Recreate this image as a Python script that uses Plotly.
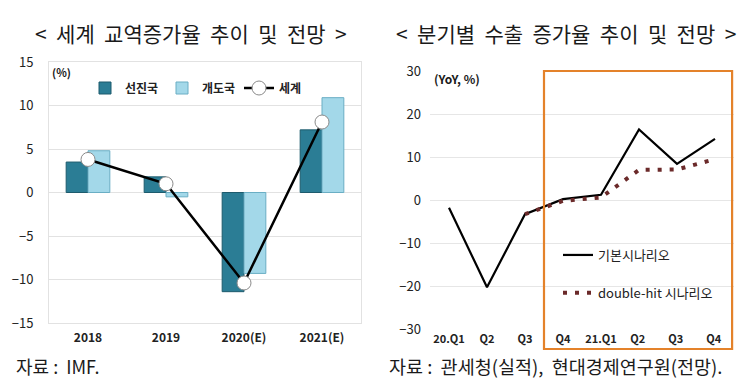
import plotly.graph_objects as go

# Left chart data (IMF)
years = ["2018", "2019", "2020(E)", "2021(E)"]
advanced = [3.5, 1.8, -11.4, 7.2]
developing = [4.8, -0.5, -9.3, 10.9]
world = [3.8, 1.0, -10.4, 8.1]

# Right chart data
quarters = ["20.Q1", "Q2", "Q3", "Q4", "21.Q1", "Q2 ", "Q3 ", "Q4 "]
base_scn = [-1.8, -20.3, -3.3, 0.2, 1.2, 16.4, 8.4, 14.2]
dh_quarters = ["Q3", "Q4", "21.Q1", "Q2 ", "Q3 ", "Q4 "]
dh_scn = [-3.3, -0.2, 0.6, 7.0, 7.1, 9.5]

W, H = 750, 390
def px(x): return x / W
def py(y): return (H - y) / H

FONT = "Noto Sans CJK KR"
NB = "\u00a0"

fig = go.Figure()

fig.add_trace(go.Bar(x=years, y=advanced, name="<b>선진국</b>", xaxis="x", yaxis="y",
                     marker=dict(color="#2b7d95", line=dict(color="#1d5b6d", width=1)),
                     legend="legend"))
fig.add_trace(go.Bar(x=years, y=developing, name="<b>개도국</b>", xaxis="x", yaxis="y",
                     marker=dict(color="#a3d8e9", line=dict(color="#6aaec4", width=1)),
                     legend="legend"))
fig.add_trace(go.Scatter(x=years, y=world, name="<b>세계</b>", xaxis="x", yaxis="y",
                         mode="lines+markers",
                         line=dict(color="black", width=2.5),
                         marker=dict(color="white", size=14, line=dict(color="#8a8a8a", width=1)),
                         legend="legend"))

fig.add_trace(go.Scatter(x=quarters, y=base_scn, name="기본시나리오", xaxis="x2", yaxis="y2",
                         mode="lines", line=dict(color="black", width=2.2),
                         legend="legend2", legendgroup="a"))
fig.add_trace(go.Scatter(x=dh_quarters, y=dh_scn, name="double-hit 시나리오", xaxis="x2", yaxis="y2",
                         mode="lines", line=dict(color="#6b2a2a", width=4, dash="4px,8px"),
                         legend="legend2", legendgroup="b"))

fig.update_layout(
    width=W, height=H, autosize=False,
    margin=dict(l=0, r=0, t=0, b=0, pad=0, autoexpand=False),
    paper_bgcolor="white", plot_bgcolor="white",
    font=dict(family=FONT, color="#222"),
    barmode="group", bargap=0.44, bargroupgap=0,
    showlegend=True,
    xaxis=dict(domain=[px(49), px(361)], range=[-0.5, 3.5], type="category",
               showgrid=False, showline=True, linecolor="#e2e2e2", mirror=True,
               ticks="", tickfont=dict(size=12, color="#222", family=FONT, weight="bold"),
               anchor="y", zeroline=False, automargin=False, ticklabelstandoff=4),
    yaxis=dict(domain=[py(323), py(62)], range=[-15, 15], dtick=5,
               showgrid=True, gridcolor="#e2e2e2", zeroline=False,
               showline=True, linecolor="#e2e2e2", mirror=True,
               tickfont=dict(size=13, color="#222"), anchor="x",
               ticklabelstandoff=12, automargin=False),
    xaxis3=dict(overlaying="x", range=[-0.5, 3.5], anchor="free", position=py(192),
                showline=True, linecolor="#b5b5b5", linewidth=1.2,
                ticks="outside", ticklen=5, tickcolor="#b5b5b5",
                tickvals=[0.5, 1.5, 2.5], showticklabels=False, showgrid=False,
                zeroline=False, domain=[px(49), px(361)], automargin=False),
    xaxis2=dict(domain=[px(430), px(734)], range=[-0.5, 7.5], type="category",
                showgrid=False, showline=False, ticks="",
                tickfont=dict(size=11, color="#222", family=FONT, weight="bold"), anchor="y2",
                ticklabelstandoff=2, zeroline=False, automargin=False),
    yaxis2=dict(domain=[py(329), py(71)], range=[-30, 30], dtick=10,
                showgrid=True, gridcolor="#e6e6e6", zeroline=False,
                showline=False, tickfont=dict(size=13, color="#222"), anchor="x2",
                ticklabelstandoff=8, automargin=False),
    xaxis4=dict(overlaying="x2", range=[-0.5, 7.5], anchor="free", position=py(199.5),
                showline=True, linecolor="black", linewidth=1.5,
                ticks="outside", ticklen=5, tickcolor="black", tickwidth=1.2,
                tickvals=[0.5, 1.5, 2.5, 3.5, 4.5, 5.5, 6.5], showticklabels=False,
                showgrid=False, zeroline=False, domain=[px(430), px(734)], automargin=False),
    legend=dict(orientation="h", x=px(85), y=py(88), xanchor="left", yanchor="middle",
                font=dict(size=12, color="#222", family=FONT), bgcolor="rgba(0,0,0,0)",
                entrywidth=32, entrywidthmode="pixels",
                itemwidth=30, tracegroupgap=0, traceorder="normal"),
    legend2=dict(orientation="v", x=px(558), y=py(274), xanchor="left", yanchor="middle",
                 font=dict(size=13, color="#222", family=FONT), bgcolor="rgba(0,0,0,0)",
                 tracegroupgap=18, traceorder="grouped"),
)

fig.add_shape(type="rect", xref="x2", yref="paper", x0=2.5, x1=7.45,
              y0=py(349), y1=py(71), line=dict(color="#e4822a", width=2.2),
              fillcolor="rgba(0,0,0,0)", layer="above")

t1 = "<" + NB + " 세계" + NB + " 교역증가율" + NB + " 추이" + NB + " 및" + NB + " 전망" + NB + " >"
t2 = "<" + NB + " 분기별" + NB + " 수출" + NB + " 증가율" + NB + " 추이" + NB + " 및" + NB + " 전망" + NB + " >"
ann = [
    dict(text=t1, x=px(191), y=py(33), size=21, anchor="center"),
    dict(text=t2, x=px(566), y=py(33), size=21, anchor="center"),
    dict(text="자료 :  IMF.", x=px(14), y=py(366), size=18, anchor="left"),
    dict(text="자료 :  관세청(실적),  현대경제연구원(전망).", x=px(387), y=py(366), size=18.5, anchor="left"),
    dict(text="<b>(%)</b>", x=px(50), y=py(72), size=11, anchor="left"),
    dict(text="<b>(YoY, %)</b>", x=px(432), y=py(79), size=12, anchor="left"),
]
for a in ann:
    fig.add_annotation(text=a["text"], x=a["x"], y=a["y"], xref="paper", yref="paper",
                       xanchor=a["anchor"], yanchor="middle", showarrow=False,
                       font=dict(size=a["size"], color="#1a1a1a", family=FONT))

fig.write_html("out.html", post_script="document.body.style.margin='0';",
               config={"displayModeBar": False})
